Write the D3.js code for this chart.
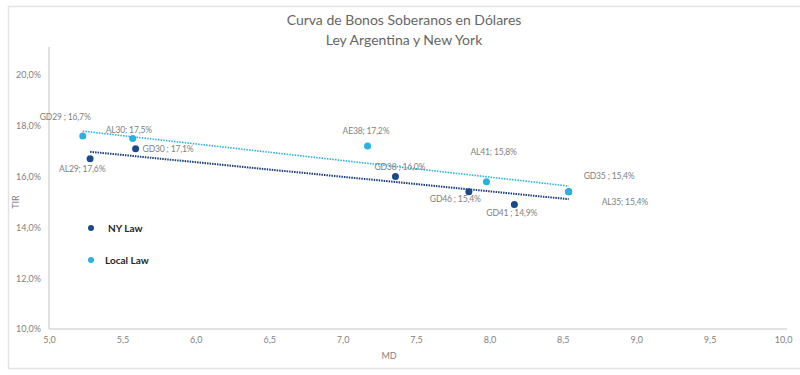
<!DOCTYPE html>
<html>
<head>
<meta charset="utf-8">
<script src="https://cdn.jsdelivr.net/npm/d3@7"></script>
<style>
	body { margin: 0; background: #fff; }
	text { font-family: Lato, "Open Sans", sans-serif; }
</style>
</head>
<body>
<div id="chart"></div>
<script>
// Data ///////////////////////////////////////////////////////////////////////
const nyMd = [5.28, 5.59, 7.36, 7.86, 8.17, 8.54];
const nyTir = [16.7, 17.1, 16.0, 15.4, 14.9, 15.4];
const nyLabels = ["AL29; 17,6%", "GD30 ; 17,1%", "GD38 ; 16,0%", "GD46 ; 15,4%", "GD41 ; 14,9%", "GD35 ; 15,4%"];

const localMd = [5.23, 5.57, 7.17, 7.98, 8.54];
const localTir = [17.6, 17.5, 17.2, 15.8, 15.4];
const localLabels = ["GD29 ; 16,7%", "AL30; 17,5%", "AE38; 17,2%", "AL41; 15,8%", "AL35; 15,4%"];

const xTicks = [5, 5.5, 6, 6.5, 7, 7.5, 8, 8.5, 9, 9.5, 10];
const yTicks = [10, 12, 14, 16, 18, 20];

// label offsets from each point (px)
const nyOffsets = [[-31, 10], [7, 0], [-21, -10], [-39, 7], [-28, 8], [15, -16]];
const localOffsets = [[-43, -19], [-27, -9], [-25, -15], [-16, -30], [33, 10]];

const width = 800,
			height = 375;

const darkColor = "#1b4a8a",
			lightColor = "#27b2df",
			axisColor = "#d9d9d9",
			textColor = "#7f7f7f";

///////////////////////////////////////////////////////////////////////////////
// Scales
const x = d3.scaleLinear()
		.domain([5, 10])
		.range([49, 783]);

const y = d3.scaleLinear()
		.domain([10, 20])
		.range([329, 75]);

const svg = d3.select("#chart")
	.append("svg")
		.attr("width", width)
		.attr("height", height);

// Outer frame
svg.append("rect")
		.attr("x", 8.5)
		.attr("y", 6.5)
		.attr("width", 820)
		.attr("height", 362)
		.attr("fill", "none")
		.attr("stroke", "#e3e3e3")
		.attr("stroke-width", 1.5);

// Title
const titleG = svg.append("g")
		.attr("text-anchor", "middle")
		.attr("fill", "#666")
		.style("font-size", "14px");
titleG.append("text")
		.attr("x", 404)
		.attr("y", 25)
		.text("Curva de Bonos Soberanos en Dólares");
titleG.append("text")
		.attr("x", 404)
		.attr("y", 45)
		.text("Ley Argentina y New York");

///////////////////////////////////////////////////////////////////////////////
// Axes
svg.append("line")
		.attr("x1", x(5)).attr("x2", x(5))
		.attr("y1", 47).attr("y2", y(10))
		.attr("stroke", axisColor)
		.attr("stroke-width", 1.5);
svg.append("line")
		.attr("x1", x(5)).attr("x2", 787)
		.attr("y1", y(10)).attr("y2", y(10))
		.attr("stroke", axisColor)
		.attr("stroke-width", 1.5);

const fmtY = d => d3.format(".1f")(d).replace(".", ",") + "%";
const fmtX = d => d3.format(".1f")(d).replace(".", ",");

const yAxis = svg.append("g")
		.attr("transform", `translate(${x(5)}, 0)`)
		.call(d3.axisLeft(y).tickValues(yTicks).tickSize(0).tickPadding(8).tickFormat(fmtY));
const xAxis = svg.append("g")
		.attr("transform", `translate(0, ${y(10)})`)
		.call(d3.axisBottom(x).tickValues(xTicks).tickSize(0).tickPadding(8).tickFormat(fmtX));

[xAxis, yAxis].forEach(a => {
	a.select(".domain").remove();
	a.selectAll("text")
			.attr("fill", textColor)
			.style("font-size", "9px")
			.style("font-family", "Lato, sans-serif");
});

svg.append("text")
		.attr("x", 389)
		.attr("y", 359)
		.attr("text-anchor", "middle")
		.attr("fill", textColor)
		.style("font-size", "9px")
		.text("MD");

svg.append("text")
		.attr("transform", "translate(19, 202) rotate(-90)")
		.attr("text-anchor", "middle")
		.attr("fill", textColor)
		.style("font-size", "9px")
		.text("TIR");

///////////////////////////////////////////////////////////////////////////////
// Trend lines (least squares)
function trend(xs, ys) {
	const mx = d3.mean(xs), my = d3.mean(ys);
	const sxy = d3.sum(xs, (v, i) => (v - mx) * (ys[i] - my));
	const sxx = d3.sum(xs, v => (v - mx) * (v - mx));
	const b = sxy / sxx;
	const x0 = d3.min(xs), x1 = d3.max(xs);
	return [[x0, my + b * (x0 - mx)], [x1, my + b * (x1 - mx)]];
}

const line = d3.line()
		.x(d => x(d[0]))
		.y(d => y(d[1]));

svg.append("path")
		.attr("d", line(trend(nyMd, nyTir)))
		.attr("fill", "none")
		.attr("stroke", "#183f78")
		.attr("stroke-width", 2)
		.attr("stroke-dasharray", "1.5,1");

svg.append("path")
		.attr("d", line(trend(localMd, localTir)))
		.attr("fill", "none")
		.attr("stroke", lightColor)
		.attr("stroke-width", 1.6)
		.attr("stroke-dasharray", "1.5,1.2");

///////////////////////////////////////////////////////////////////////////////
// Points and labels
function drawSeries(md, tir, labels, offsets, color) {
	const g = svg.append("g");
	md.forEach((m, i) => {
		g.append("circle")
				.attr("cx", x(m))
				.attr("cy", y(tir[i]))
				.attr("r", 3.5)
				.attr("fill", color);
		g.append("text")
				.attr("x", x(m) + offsets[i][0])
				.attr("y", y(tir[i]) + offsets[i][1])
				.attr("dy", "0.35em")
				.attr("fill", textColor)
				.style("font-size", "8.6px")
				.style("letter-spacing", "-0.2px")
				.text(labels[i]);
	});
}

drawSeries(nyMd, nyTir, nyLabels, nyOffsets, darkColor);
drawSeries(localMd, localTir, localLabels, localOffsets, lightColor);

///////////////////////////////////////////////////////////////////////////////
// Legend
const legend = [
	{ name: "NY Law", color: darkColor, y: 228, tx: 108 },
	{ name: "Local Law", color: lightColor, y: 260, tx: 105 }
];
legend.forEach(d => {
	svg.append("circle")
			.attr("cx", 91)
			.attr("cy", d.y)
			.attr("r", 3)
			.attr("fill", d.color);
	svg.append("text")
			.attr("x", d.tx)
			.attr("y", d.y)
			.attr("dy", "0.35em")
			.attr("fill", "#262626")
			.style("font-size", "10px")
			.style("font-weight", "bold")
			.text(d.name);
});
</script>
</body>
</html>
